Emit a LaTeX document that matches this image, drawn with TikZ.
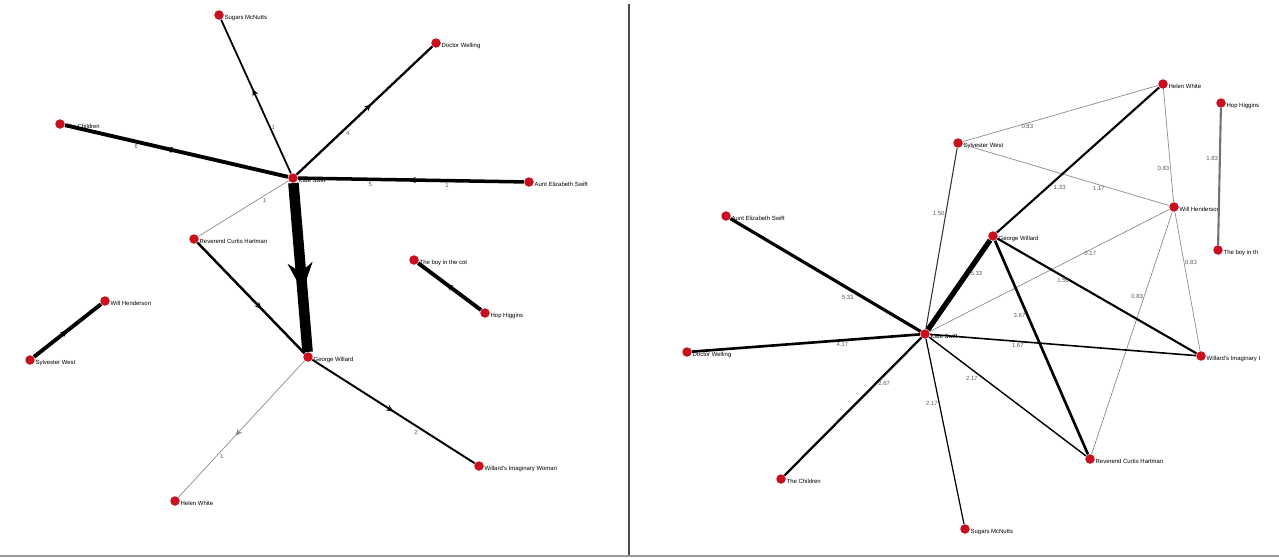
\documentclass[tikz,border=0pt]{standalone}
\usepackage{fontspec}
\setmainfont{Liberation Sans}
\usetikzlibrary{arrows.meta,decorations.markings}
\definecolor{dotred}{RGB}{200,16,30}
\tikzset{
  vtx/.style={circle,fill=dotred,inner sep=0pt,minimum size=0.19cm},
  lbl/.style={font=\fontsize{3.4}{4}\selectfont,inner sep=0.5pt,yshift=-1.6pt,xshift=-0.4pt},
  elbl/.style={font=\fontsize{3.4}{4}\selectfont,inner sep=0.5pt,text=black!65},
  greyedge/.style={draw=black!45,line width=0.4pt},
  midarrow/.style={postaction={decorate},decoration={markings,
      mark=at position #1 with {\arrow{Stealth[length=4pt,width=3.5pt]}}}},
}
\begin{document}
\begin{tikzpicture}[x=0.02cm,y=-0.02cm]
\useasboundingbox (0,0) rectangle (1279,558);
% frame lines
\draw[black!70,line width=0.6pt] (629,4) -- (629,556);
\draw[black!40,line width=0.8pt] (0,556) -- (1279,556);

% ---- left graph: directed ties
\node[vtx,label={[lbl]east:Sugars McNutts}] (lsugar) at (219,15) {};
\node[vtx,label={[lbl]east:Doctor Welling}] (ldoctor) at (436,43) {};
\node[vtx,label={[lbl]east:The Children}] (lchild) at (60,124) {};
\node[vtx,label={[lbl]east:Kate Swift}] (lkate) at (293,178) {};
\node[vtx,label={[lbl]east:Aunt Elizabeth Swift}] (launt) at (529,182) {};
\node[vtx,label={[lbl]east:Reverend Curtis Hartman}] (lrev) at (194,239) {};
\node[vtx,label={[lbl]east:The boy in the cot}] (lboy) at (414,260) {};
\node[vtx,label={[lbl]east:Will Henderson}] (lwill) at (105,301) {};
\node[vtx,label={[lbl]east:Hop Higgins}] (lhop) at (485,313) {};
\node[vtx,label={[lbl]east:George Willard}] (lgeorge) at (308,357) {};
\node[vtx,label={[lbl]east:Sylvester West}] (lsyl) at (30,360) {};
\node[vtx,label={[lbl]east:Willard's Imaginary Woman}] (limag) at (479,466) {};
\node[vtx,label={[lbl]east:Helen White}] (lhelen) at (175,501) {};

\draw[line width=1pt,midarrow=0.55] (lkate) -- node[elbl,pos=0.3,right]{1} (lsugar);
\draw[line width=1.3pt,midarrow=0.55] (lkate) -- node[elbl,pos=0.35,below right]{4} (ldoctor);
\draw[line width=2.2pt,midarrow=0.55] (lkate) -- node[elbl,pos=0.68,below]{6} (lchild);
\draw[line width=2pt,midarrow=0.51] (launt) -- node[elbl,pos=0.34,below]{1} node[elbl,pos=0.68,below]{5} (lkate);
\draw[greyedge] (lkate) -- node[elbl,pos=0.3,below right]{1} (lrev);
\draw[line width=6pt,postaction={decorate},decoration={markings,
    mark=at position 0.64 with {\arrow{Stealth[length=16pt,width=14pt]}}}] (lkate) -- (lgeorge);
\draw[line width=1.4pt,midarrow=0.6] (lrev) -- (lgeorge);
\draw[line width=2.2pt,midarrow=0.5] (lsyl) -- (lwill);
\draw[line width=2.2pt,midarrow=0.55] (lhop) -- (lboy);
\draw[line width=1.1pt,midarrow=0.5] (lgeorge) -- node[elbl,pos=0.66,below left]{2} (limag);
\draw[greyedge,midarrow=0.55] (lgeorge) -- node[elbl,pos=0.68,below right]{1} (lhelen);

% ---- right graph: weighted ties
\node[vtx,label={[lbl]east:Helen White}] (rhelen) at (1163,84) {};
\node[vtx,label={[lbl]east:Hop Higgins}] (rhop) at (1221,103) {};
\node[vtx,label={[lbl]east:Sylvester West}] (rsyl) at (958,143) {};
\node[vtx,label={[lbl]east:Will Henderson}] (rwill) at (1174,207) {};
\node[vtx,label={[lbl]east:Aunt Elizabeth Swift}] (raunt) at (726,216) {};
\node[vtx,label={[lbl]east:George Willard}] (rgeorge) at (993,236) {};
\node[vtx,label={[lbl]east:The boy in th}] (rboy) at (1218,250) {};
\node[vtx,label={[lbl]east:Kate Swift}] (rkate) at (925,334) {};
\node[vtx,label={[lbl]east:Doctor Welling}] (rdoctor) at (687,352) {};
\node[vtx,label={[lbl]east:Willard's Imaginary I}] (rimag) at (1201,356) {};
\node[vtx,label={[lbl]east:Reverend Curtis Hartman}] (rrev) at (1090,459) {};
\node[vtx,label={[lbl]east:The Children}] (rchild) at (781,479) {};
\node[vtx,label={[lbl]east:Sugars McNutts}] (rsugar) at (965,529) {};

\draw[greyedge] (rsyl) -- node[elbl,pos=0.33,below]{0.83} (rhelen);
\draw[greyedge] (rsyl) -- node[elbl,pos=0.66,below]{1.17} (rwill);
\draw[black!80,line width=0.6pt] (rsyl) -- node[elbl,pos=0.36,left]{1.50} (rkate);
\draw[line width=1.2pt] (rhelen) -- node[elbl,pos=0.66,below right]{1.33} (rgeorge);
\draw[greyedge] (rhelen) -- node[elbl,pos=0.7,left]{0.83} (rwill);
\draw[black!55,line width=1.2pt] (rhop) -- node[elbl,pos=0.37,left]{1.83} (rboy);
\draw[greyedge] (rwill) -- node[elbl,pos=0.33,below]{0.17} (rkate);
\draw[greyedge] (rwill) -- node[elbl,pos=0.36,right]{0.83} (rimag);
\draw[greyedge] (rwill) -- node[elbl,pos=0.35,left]{0.83} (rrev);
\draw[line width=3pt] (rgeorge) -- node[elbl,pos=0.37,right]{5.33} (rkate);
\draw[line width=1.2pt] (rgeorge) -- node[elbl,pos=0.33,below]{1.50} (rimag);
\draw[line width=1.5pt] (rgeorge) -- node[elbl,pos=0.35,left]{3.67} (rrev);
\draw[line width=1.8pt] (raunt) -- node[elbl,pos=0.66,below left]{5.33} (rkate);
\draw[line width=1.5pt] (rdoctor) -- node[elbl,pos=0.66,below]{4.17} (rkate);
\draw[line width=1.3pt] (rchild) -- node[elbl,pos=0.67,right]{2.67} (rkate);
\draw[line width=0.9pt] (rkate) -- node[elbl,pos=0.33,below]{1.67} (rimag);
\draw[line width=0.8pt] (rkate) -- node[elbl,pos=0.32,below left]{2.17} (rrev);
\draw[line width=0.7pt] (rkate) -- node[elbl,pos=0.35,left]{2.17} (rsugar);
\end{tikzpicture}
\end{document}
